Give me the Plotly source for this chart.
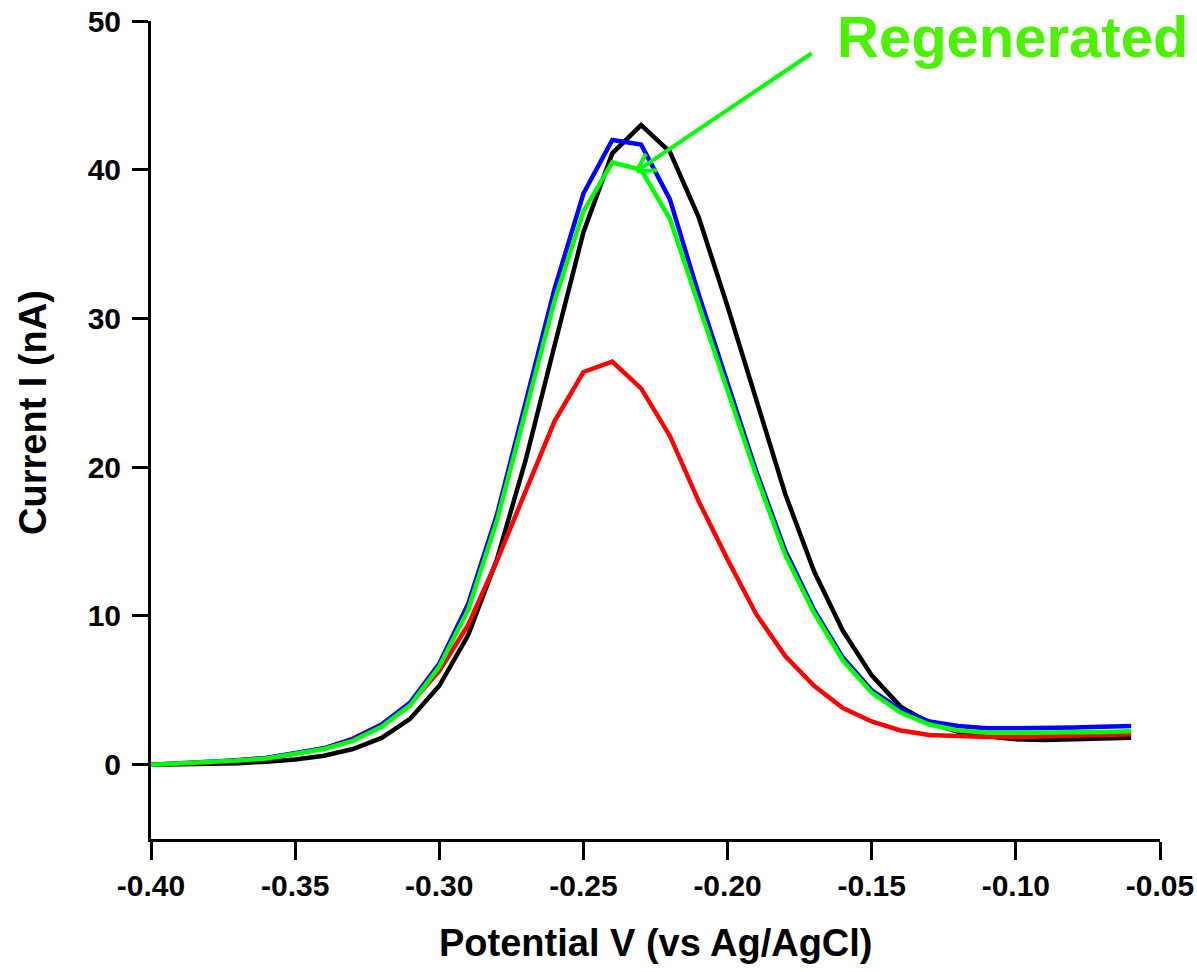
import plotly.graph_objects as go

# Potential (V vs Ag/AgCl)
potential = [-0.40, -0.39, -0.38, -0.37, -0.36, -0.35, -0.34, -0.33, -0.32, -0.31,
             -0.30, -0.29, -0.28, -0.27, -0.26, -0.25, -0.24, -0.23, -0.22, -0.21,
             -0.20, -0.19, -0.18, -0.17, -0.16, -0.15, -0.14, -0.13, -0.12, -0.11,
             -0.10, -0.09, -0.08, -0.07, -0.06]

# Current (nA) per curve
current_black = [0.00, 0.02, 0.05, 0.10, 0.20, 0.35, 0.60, 1.05, 1.80, 3.10,
                 5.30, 8.70, 13.8, 20.5, 28.2, 35.8, 41.1, 43.0, 41.2, 36.8,
                 30.8, 24.6, 18.2, 13.0, 9.0, 6.0, 3.9, 2.8, 2.2, 1.9,
                 1.7, 1.65, 1.7, 1.75, 1.8]
current_red = [0.00, 0.05, 0.15, 0.30, 0.45, 0.75, 1.10, 1.75, 2.70, 4.10,
               6.30, 9.40, 13.7, 18.4, 23.1, 26.4, 27.1, 25.3, 22.1, 17.7,
               13.8, 10.1, 7.3, 5.3, 3.8, 2.9, 2.3, 2.0, 1.9, 1.85,
               1.85, 1.9, 1.95, 2.0, 2.05]
current_blue = [0.00, 0.08, 0.17, 0.30, 0.45, 0.75, 1.10, 1.70, 2.70, 4.20,
                6.80, 10.8, 16.8, 24.4, 32.0, 38.4, 42.0, 41.7, 38.0, 31.6,
                25.6, 19.7, 14.4, 10.4, 7.2, 5.0, 3.7, 2.9, 2.6, 2.45,
                2.45, 2.45, 2.5, 2.55, 2.6]
current_green = [0.00, 0.07, 0.15, 0.28, 0.42, 0.70, 1.05, 1.60, 2.55, 4.00,
                 6.60, 10.4, 16.4, 23.8, 31.2, 37.2, 40.5, 40.0, 36.7, 30.9,
                 25.2, 19.4, 14.1, 10.2, 7.0, 4.85, 3.5, 2.7, 2.3, 2.15,
                 2.15, 2.15, 2.2, 2.2, 2.25]

x_tick_vals = [-0.40, -0.35, -0.30, -0.25, -0.20, -0.15, -0.10, -0.05]
x_tick_text = ["-0.40", "-0.35", "-0.30", "-0.25", "-0.20", "-0.15", "-0.10", "-0.05"]
y_tick_vals = [0, 10, 20, 30, 40, 50]
y_tick_text = ["0", "10", "20", "30", "40", "50"]

x_title = "Potential V (vs Ag/AgCl)"
y_title = "Current I (nA)"
label_text = "Regenerated"
label_pos = (-0.1011, 48.98)
arrow_tip = (-0.2315, 39.9)
arrow_tail = (-0.1703, 47.9)

FONT = "Liberation Sans, Arial, Helvetica, sans-serif"

fig = go.Figure()
series = [
    (current_black, "#000000"),
    (current_red, "#ff0000"),
    (current_blue, "#0000ff"),
    (current_green, "#00ff00"),
]
for ys, col in series:
    fig.add_trace(go.Scatter(x=potential, y=ys, mode="lines",
                             line=dict(color=col, width=4.5), showlegend=False,
                             hoverinfo="skip"))

# arrow shaft
fig.add_annotation(x=arrow_tip[0], y=arrow_tip[1], ax=arrow_tail[0], ay=arrow_tail[1],
                   xref="x", yref="y", axref="x", ayref="y", text="",
                   showarrow=True, arrowhead=0, arrowwidth=4, arrowcolor="#00ff00",
                   standoff=0, startstandoff=0)
# open arrowhead barbs
for dx, dy in [(10, -19), (22, -1)]:
    fig.add_annotation(x=arrow_tip[0], y=arrow_tip[1], ax=dx, ay=dy,
                       xref="x", yref="y", text="",
                       showarrow=True, arrowhead=0, arrowwidth=4, arrowcolor="#00ff00",
                       standoff=0, startstandoff=0)

fig.add_annotation(x=label_pos[0], y=label_pos[1], xref="x", yref="y",
                   text=label_text, showarrow=False, xanchor="center", yanchor="middle",
                   font=dict(family=FONT, size=58, color="#4cf000", weight="bold"))

# axis titles
fig.add_annotation(x=0.5, y=-0.1271, xref="paper", yref="paper", text=x_title,
                   showarrow=False, xanchor="center", yanchor="middle",
                   font=dict(family=FONT, size=38, color="black", weight="bold"))
fig.add_annotation(x=-0.117, y=0.522, xref="paper", yref="paper", text=y_title,
                   showarrow=False, xanchor="center", yanchor="middle", textangle=-90,
                   font=dict(family=FONT, size=38, color="black", weight="bold"))

axis_common = dict(showline=True, linewidth=3, linecolor="black", ticks="outside",
                   tickwidth=3, tickcolor="black", showgrid=False, zeroline=False,
                   automargin=False, ticklabeloverflow="allow",
                   tickfont=dict(family=FONT, size=30, color="black", weight="bold"))

fig.update_layout(
    width=1197, height=972,
    margin=dict(l=151, r=37, t=21, b=133),
    paper_bgcolor="white", plot_bgcolor="white",
    showlegend=False,
    hovermode=False,
    xaxis=dict(range=[-0.40, -0.05], tickvals=x_tick_vals, ticktext=x_tick_text,
               ticklen=18, ticklabelstandoff=0, **axis_common),
    yaxis=dict(range=[-5, 50], tickvals=y_tick_vals, ticktext=y_tick_text,
               ticklen=16, ticklabelstandoff=5, **axis_common),
)

fig.write_html("out.html",
               config={"displayModeBar": False, "staticPlot": True},
               post_script="document.body.style.margin='0';document.body.style.overflow='hidden';")
